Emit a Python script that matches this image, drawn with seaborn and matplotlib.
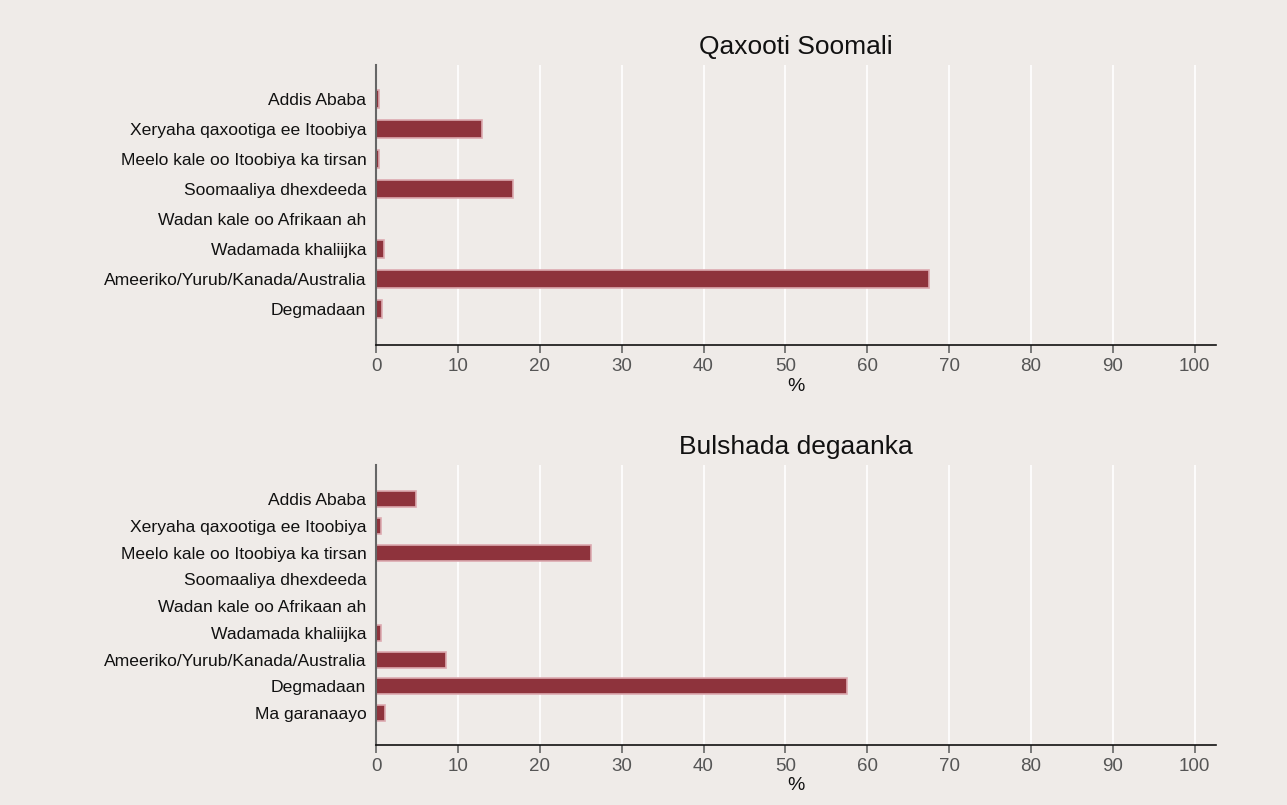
import matplotlib
matplotlib.use("Agg")
import matplotlib.pyplot as plt
import pandas as pd
import seaborn as sns

# Data (percent)
cats_top = [
    "Addis Ababa",
    "Xeryaha qaxootiga ee Itoobiya",
    "Meelo kale oo Itoobiya ka tirsan",
    "Soomaaliya dhexdeeda",
    "Wadan kale oo Afrikaan ah",
    "Wadamada khaliijka",
    "Ameeriko/Yurub/Kanada/Australia",
    "Degmadaan",
]
vals_top = [0.4, 12.9, 0.4, 16.7, 0.0, 1.0, 67.6, 0.75]

cats_bottom = [
    "Addis Ababa",
    "Xeryaha qaxootiga ee Itoobiya",
    "Meelo kale oo Itoobiya ka tirsan",
    "Soomaaliya dhexdeeda",
    "Wadan kale oo Afrikaan ah",
    "Wadamada khaliijka",
    "Ameeriko/Yurub/Kanada/Australia",
    "Degmadaan",
    "Ma garanaayo",
]
vals_bottom = [4.9, 0.65, 26.3, 0.0, 0.05, 0.65, 8.5, 57.5, 1.1]

titles = ["Qaxooti Soomali", "Bulshada degaanka"]
xticks = list(range(0, 101, 10))

bg = "#efebe8"
bar_color = "#8e333c"
edge_color = "#dcaab0"

sns.set_theme(style="white")
plt.rcParams["font.family"] = ["Liberation Sans", "DejaVu Sans"]

fig = plt.figure(figsize=(12.87, 8.05), dpi=100, facecolor=bg)
ax_top = fig.add_axes([0.2922, 0.571, 0.6526, 0.348])
ax_bot = fig.add_axes([0.2922, 0.0745, 0.6526, 0.3475])

panels = [
    (ax_top, cats_top, vals_top, titles[0]),
    (ax_bot, cats_bottom, vals_bottom, titles[1]),
]

for ax, cats, vals, title in panels:
    df = pd.DataFrame({"cat": cats, "val": vals})
    ax.set_facecolor(bg)
    sns.barplot(
        data=df, x="val", y="cat", orient="h", color=bar_color,
        saturation=1, width=0.6, edgecolor=edge_color, linewidth=1.2, ax=ax,
    )
    n = len(cats)
    if n == 8:
        ax.set_ylim(n - 1 + 1.2, -1.13)
    else:
        ax.set_ylim(n - 1 + 1.2, -1.27)
    ax.set_xlim(0, 102.6)
    ax.set_xticks(xticks)
    ax.xaxis.grid(True, color="white", linewidth=1.2)
    ax.set_axisbelow(True)
    ax.set_title(title, fontsize=19, color="#111111", pad=8)
    ax.set_xlabel("%", fontsize=14, color="#111111", labelpad=2)
    ax.set_ylabel("")
    for s in ["top", "right"]:
        ax.spines[s].set_visible(False)
    ax.spines["left"].set_color("#666666")
    ax.spines["left"].set_linewidth(1.5)
    ax.spines["bottom"].set_color("#111111")
    ax.spines["bottom"].set_linewidth(1.2)
    ax.tick_params(axis="x", bottom=True, length=6, width=1.2, color="#666666",
                   labelsize=13.5, labelcolor="#555555", pad=3)
    ax.tick_params(axis="y", left=False, length=0, labelsize=12.6,
                   labelcolor="#111111", pad=7)

fig.savefig("out.png", dpi=100, facecolor=bg)
